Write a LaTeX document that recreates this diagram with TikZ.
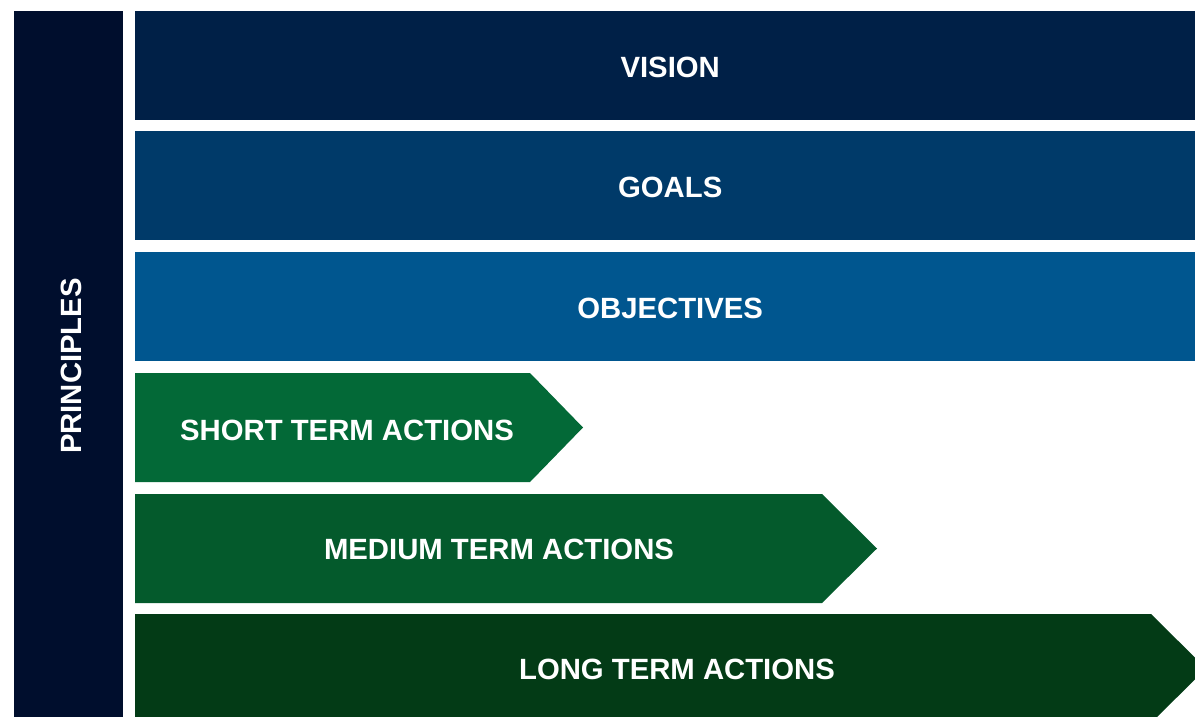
\documentclass[tikz,border=0pt]{standalone}
\usepackage{fontspec}
\setmainfont{Liberation Sans}
\usepackage{tikz}

\definecolor{principlesblue}{HTML}{000E2D}
\definecolor{visionblue}{HTML}{002047}
\definecolor{goalsblue}{HTML}{003A69}
\definecolor{objblue}{HTML}{00568F}
\definecolor{shortgreen}{HTML}{036937}
\definecolor{mediumgreen}{HTML}{045A2C}
\definecolor{longgreen}{HTML}{033B16}

\begin{document}
\begin{tikzpicture}[x=1pt,y=-1pt,
 lbl/.style={text=white,inner sep=0pt,font=\fontsize{29.3}{34}\selectfont\bfseries},
 band/.style={fill=#1,anchor=north west,minimum width=1070pt,minimum height=109pt,inner sep=0pt}]
 \useasboundingbox (0,0) rectangle (1195,717);
 \clip (0,0) rectangle (1195,717);

 % left bar
 \node[fill=principlesblue,anchor=north west,minimum width=109pt,minimum height=714pt,inner sep=0pt] (principles) at (14,11) {};
 \node[lbl,rotate=90] (principlestext) at (71,366) {PRINCIPLES};

 % top bands
 \node[band=visionblue] (vision) at (135,11) {};
 \node[band=goalsblue] (goals) at (135,131) {};
 \node[band=objblue] (objectives) at (135,252) {};
 \node[lbl] at ([yshift=-1.5pt]vision.center) {VISION};
 \node[lbl] at ([yshift=-1.5pt]goals.center) {GOALS};
 \node[lbl] at ([yshift=-1.5pt]objectives.center) {OBJECTIVES};

 % actions
 \fill[shortgreen] (135,373) -- (530,373) -- (583,427.5) -- (530,482) -- (135,482) -- cycle;
 \fill[mediumgreen] (135,494) -- (822,494) -- (877,548.5) -- (822,603) -- (135,603) -- cycle;
 \fill[longgreen] (135,614) -- (1151,614) -- (1206,668.5) -- (1151,723) -- (135,723) -- cycle;
 \node[lbl] (short) at (347,430.5) {SHORT TERM ACTIONS};
 \node[lbl] (medium) at (499,549.5) {MEDIUM TERM ACTIONS};
 \node[lbl] (long) at (677,669) {LONG TERM ACTIONS};
\end{tikzpicture}
\end{document}
